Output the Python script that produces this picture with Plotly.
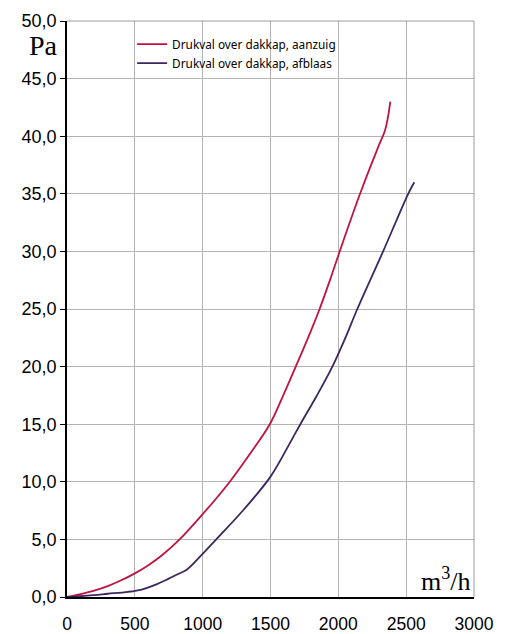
import plotly.graph_objects as go

# Data
flow_aanzuig = [0, 100, 200, 300, 400, 500, 600, 700, 830, 1000, 1100, 1200, 1350, 1495, 1590, 1686, 1775, 1862, 1935, 2010, 2160, 2295, 2344, 2365, 2383]
dp_aanzuig = [0, 0.25, 0.55, 0.95, 1.45, 2.05, 2.76, 3.62, 5.0, 7.2, 8.55, 10.0, 12.45, 15.0, 17.4, 20.0, 22.45, 25.0, 27.4, 30.0, 35.0, 39.1, 40.5, 41.6, 43.0]

flow_afblaas = [0, 150, 300, 450, 550, 650, 750, 820, 880, 940, 1000, 1100, 1300, 1500, 1654, 1720, 1840, 1956, 2050, 2140, 2330, 2515, 2560]
dp_afblaas = [0, 0.12, 0.28, 0.45, 0.65, 1.05, 1.6, 2.0, 2.35, 3.0, 3.75, 5.0, 7.55, 10.45, 13.6, 15.0, 17.45, 20.0, 22.45, 25.0, 30.0, 35.0, 36.0]

name_aanzuig = "Drukval over dakkap, aanzuig"
name_afblaas = "Drukval over dakkap, afblaas"

x_ticks = [0, 500, 1000, 1500, 2000, 2500, 3000]
y_ticks = [0, 5, 10, 15, 20, 25, 30, 35, 40, 45, 50]

RED = "#C0143E"
PURPLE = "#3E2660"

fig = go.Figure()
fig.add_trace(go.Scatter(x=flow_aanzuig, y=dp_aanzuig, mode="lines", name=name_aanzuig,
                         line=dict(color=RED, width=1.8, shape="spline", smoothing=1.0)))
fig.add_trace(go.Scatter(x=flow_afblaas, y=dp_afblaas, mode="lines", name=name_afblaas,
                         line=dict(color=PURPLE, width=1.8, shape="spline", smoothing=1.0)))

fig.update_layout(
    width=506, height=634,
    margin=dict(l=59, r=40, t=13, b=45),
    paper_bgcolor="white", plot_bgcolor="white",
    separators=",.",
    font=dict(family="Liberation Sans, Arial, sans-serif", size=18, color="black"),
    showlegend=True,
    legend=dict(x=0.16, y=0.985, xanchor="left", yanchor="top",
                bgcolor="rgba(0,0,0,0)", borderwidth=0,
                font=dict(family="Noto Sans, sans-serif", size=11.8, color="black"),
                itemwidth=30, tracegroupgap=0),
    xaxis=dict(range=[0, 3000], tickvals=x_ticks, tickformat="d",
               tickfont=dict(size=17.5),
               showgrid=True, gridcolor="#b4b4b4", gridwidth=1,
               showline=True, linecolor="black", linewidth=1.5, mirror=False,
               ticks="", ticklabelstandoff=10, zeroline=False, automargin=False),
    yaxis=dict(range=[0, 50], tickvals=y_ticks, tickformat=".1f",
               showgrid=True, gridcolor="#b4b4b4", gridwidth=1,
               showline=True, linecolor="black", linewidth=1.5, mirror=False,
               ticks="outside", ticklen=5, tickcolor="black", zeroline=False,
               automargin=False),
    shapes=[
        dict(type="line", xref="paper", yref="paper", x0=0, x1=1, y0=1, y1=1,
             line=dict(color="#9a9a9a", width=1)),
        dict(type="line", xref="paper", yref="paper", x0=1, x1=1, y0=0, y1=1,
             line=dict(color="#9a9a9a", width=1)),
    ],
    annotations=[
        dict(text="Pa", xref="paper", yref="paper", x=-0.018, y=0.958,
             xanchor="right", yanchor="middle", showarrow=False,
             font=dict(family="Liberation Serif, Times New Roman, serif", size=28, color="black")),
        dict(text="m<sup>3</sup>/h", xref="paper", yref="paper", x=0.997, y=0.03,
             xanchor="right", yanchor="middle", showarrow=False,
             font=dict(family="Liberation Serif, Times New Roman, serif", size=26, color="black")),
    ],
)

fig.write_html("out.html")
